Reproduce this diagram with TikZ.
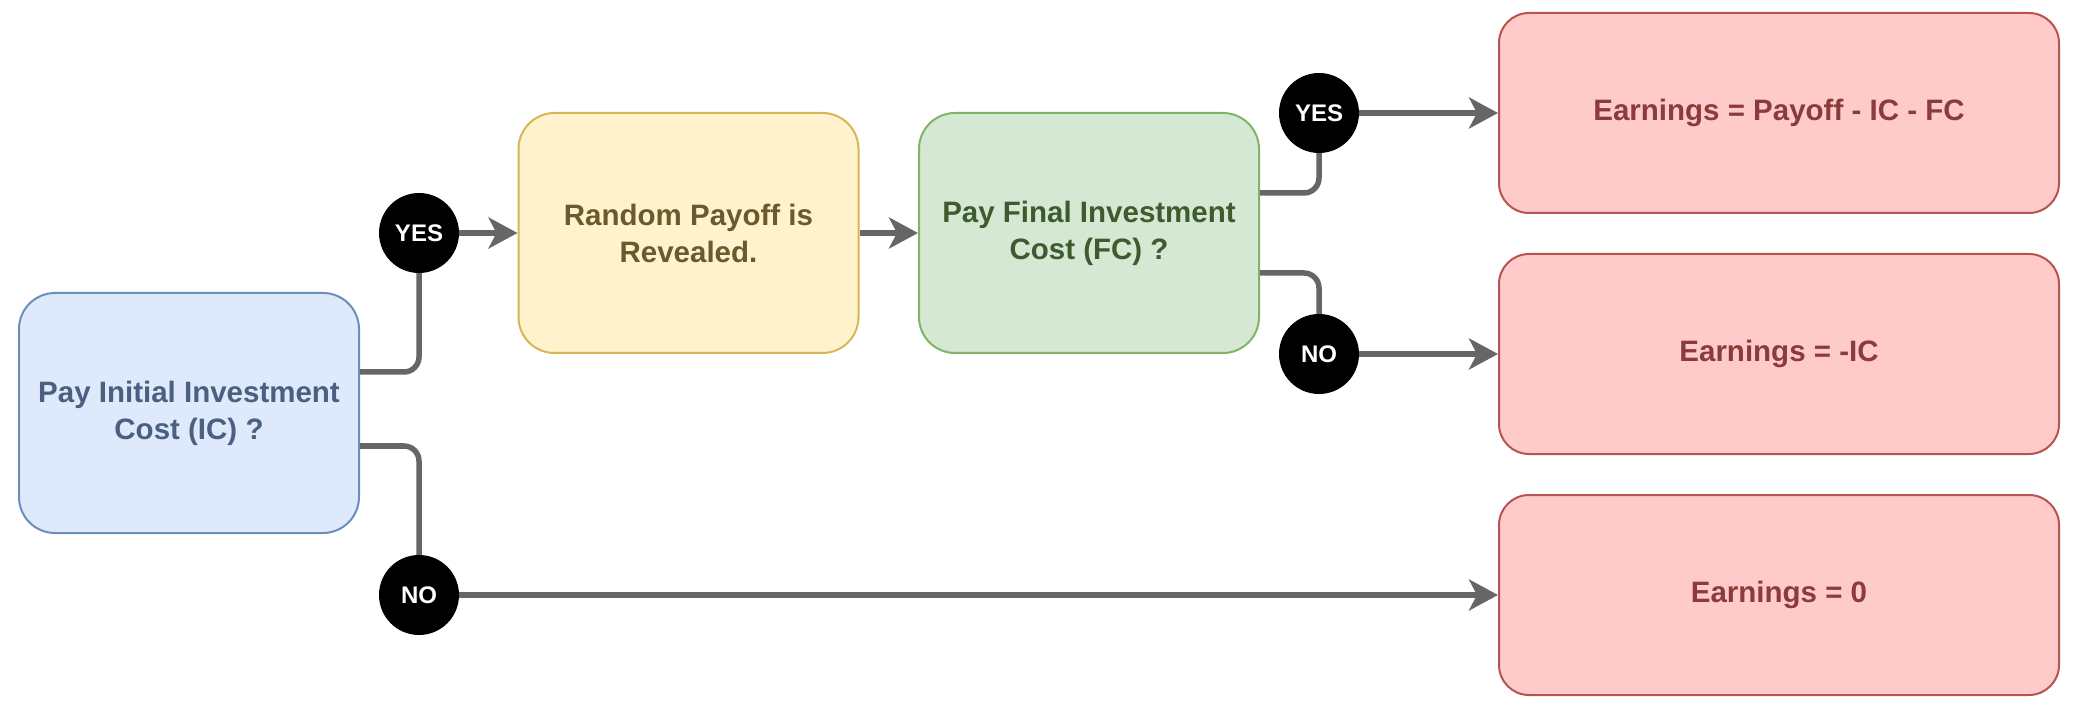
\documentclass[tikz,border=0pt]{standalone}
\usepackage{fontspec}
\setmainfont{Liberation Sans}
\usetikzlibrary{arrows.meta,calc}
\definecolor{bfill}{HTML}{DEEAFB}
\definecolor{bdraw}{HTML}{6C8EBF}
\definecolor{btext}{HTML}{4B5F80}
\definecolor{yfill}{HTML}{FFF2CC}
\definecolor{ydraw}{HTML}{D6B656}
\definecolor{ytext}{HTML}{6B5A2E}
\definecolor{gfill}{HTML}{D5E8D4}
\definecolor{gdraw}{HTML}{82B366}
\definecolor{gtext}{HTML}{3E5A2E}
\definecolor{rfill}{HTML}{FFCACA}
\definecolor{rdraw}{HTML}{B85450}
\definecolor{rtext}{HTML}{8A3B3B}
\definecolor{lgray}{HTML}{666666}
\begin{document}
\begin{tikzpicture}[x=1pt,y=-1pt,
  box/.style={draw, line width=2pt, align=center, inner sep=0pt,
    font=\bfseries\fontsize{29.5}{37}\selectfont},
  bigbox/.style={box, rounded corners=36pt, minimum width=340pt, minimum height=240pt},
  bluebox/.style={bigbox, fill=bfill, draw=bdraw, text=btext},
  yellowbox/.style={bigbox, fill=yfill, draw=ydraw, text=ytext},
  greenbox/.style={bigbox, fill=gfill, draw=gdraw, text=gtext},
  redbox/.style={box, rounded corners=30pt, minimum width=560pt, minimum height=200pt,
    fill=rfill, draw=rdraw, text=rtext},
  dec/.style={circle, fill=black, minimum size=80pt, inner sep=0pt, text=white,
    font=\bfseries\fontsize{24}{24}\selectfont},
  conn/.style={draw=lgray, line width=5.5pt, rounded corners=15pt},
  arr/.style={draw=lgray, line width=5.5pt, -{Stealth[length=29pt,width=31pt,inset=8pt]}}
]
\useasboundingbox (0,0) rectangle (2078,708);

\node[bluebox] (ic) at (189,413) {Pay Initial Investment\\Cost (IC) ?};
\node[yellowbox] (rp) at (688.5,233) {Random Payoff is\\Revealed.};
\node[greenbox] (fc) at (1089,233) {Pay Final Investment\\Cost (FC) ?};
\node[redbox] (e1) at (1779,113) {Earnings = Payoff - IC - FC};
\node[redbox] (e2) at (1779,354) {Earnings = -IC};
\node[redbox] (e3) at (1779,595) {Earnings = 0};

\node[dec] (yes1) at (419,233) {YES};
\node[dec] (no1) at (419,595) {NO};
\node[dec] (yes2) at (1319,113) {YES};
\node[dec] (no2) at (1319,354) {NO};

\draw[conn] ($(ic.east)+(0,-41)$) -| (yes1.south);
\draw[conn] ($(ic.east)+(0,33)$) -| (no1.north);
\draw[conn] ($(fc.east)+(0,-40)$) -| (yes2.south);
\draw[conn] ($(fc.east)+(0,40)$) -| (no2.north);

\draw[arr] (yes1) -- (rp);
\draw[arr] (rp) -- (fc);
\draw[arr] (yes2) -- (e1);
\draw[arr] (no2) -- (e2);
\draw[arr] (no1) -- (e3);
\end{tikzpicture}
\end{document}
